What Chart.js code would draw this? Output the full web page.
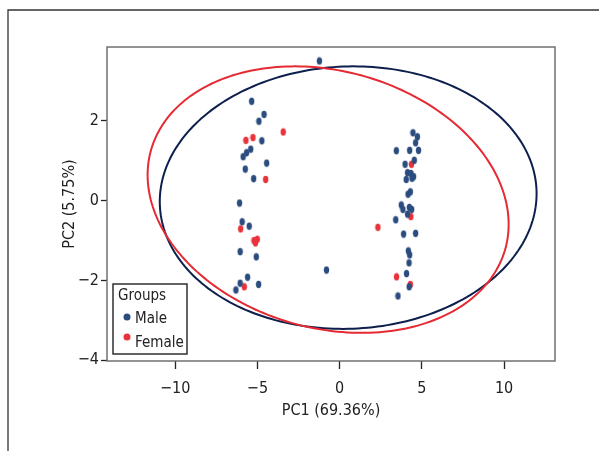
<!DOCTYPE html>
<html>
<head>
<meta charset="utf-8">
<script src="https://cdn.jsdelivr.net/npm/chart.js@4"></script>
<style>
  body { margin: 0; background: #fff; }
  canvas { display: block; }
</style>
</head>
<body>
<canvas id="pca" width="599" height="451"></canvas>
<script>
// PCA scores
var maleX = [-1.23, -5.35, -4.60, -4.91, -4.73, -5.41, -5.66, -5.87, -4.44, -5.74, -5.23, -6.09, -5.93, -5.50,
  -6.05, -5.07, -5.60, -6.05, -4.93, -6.31, -0.80,
  4.46, 4.73, 4.62, 4.80, 3.45, 4.26, 4.54, 3.98, 4.13, 4.34, 4.50, 4.05, 4.40, 4.30, 4.16, 3.75, 3.85,
  4.24, 4.13, 4.38, 3.41, 3.89, 4.62, 4.18, 4.26, 4.22, 4.07, 4.23, 3.55];
var maleY = [3.50, 2.49, 2.16, 1.99, 1.50, 1.29, 1.20, 1.10, 0.94, 0.79, 0.55, -0.06, -0.53, -0.64,
  -1.28, -1.41, -1.92, -2.07, -2.10, -2.24, -1.74,
  1.70, 1.60, 1.45, 1.26, 1.25, 1.26, 1.01, 0.91, 0.70, 0.68, 0.60, 0.53, 0.56, 0.22, 0.16, -0.11, -0.22,
  -0.17, -0.34, -0.22, -0.48, -0.84, -0.82, -1.26, -1.36, -1.56, -1.83, -2.16, -2.39];
var femaleX = [-3.43, -5.70, -5.27, -4.50, -6.02, -5.21, -5.01, -5.12, -5.80, 2.33, 4.37, 4.33, 3.46, 4.30];
var femaleY = [1.72, 1.51, 1.58, 0.53, -0.71, -1.00, -0.97, -1.06, -2.16, -0.67, 0.91, -0.40, -1.91, -2.10];

// confidence ellipses: centre x, centre y, half width, half height, correlation
var maleEllipse = [0.52, 0.075, 11.46, 3.29, 0.03];
var femaleEllipse = [-0.70, 0.025, 10.98, 3.34, -0.185];

var xTicks = [-10, -5, 0, 5, 10];
var yTicks = [-4, -2, 0, 2];
var groups = ['Male', 'Female'];

var BLUE = '#2b4c7e', RED = '#e8333c';
var NAVY = '#0d1f4d', RED_LINE = '#e52a33';
var FONT = '"Liberation Sans Narrow", "DejaVu Sans Condensed", "Liberation Sans", sans-serif';
var SIZE = 16;

function dot(color) {
  var c = document.createElement('canvas');
  c.width = 7; c.height = 9;
  var g = c.getContext('2d');
  g.fillStyle = color;
  g.beginPath();
  g.ellipse(3.5, 4.5, 2.7, 3.7, 0, 0, Math.PI * 2);
  g.fill();
  return c;
}

function points(xs, ys) {
  return xs.map(function(x, i) { return {x: x, y: ys[i]}; });
}

function minus(v) {
  return v < 0 ? '\u2212' + Math.abs(v) : String(v);
}

var decor = {
  id: 'decor',
  beforeDraw: function(chart) {
    var c = chart.ctx;
    c.save();
    c.strokeStyle = '#333';
    c.lineWidth = 1.3;
    c.beginPath();
    c.moveTo(8, 451);
    c.lineTo(8, 10);
    c.lineTo(599, 10);
    c.stroke();
    c.restore();
  },
  afterDatasetsDraw: function(chart) {
    var c = chart.ctx, sx = chart.scales.x, sy = chart.scales.y;
    [[maleEllipse, NAVY], [femaleEllipse, RED_LINE]].forEach(function(e) {
      var p = e[0];
      c.save();
      c.strokeStyle = e[1];
      c.lineWidth = 2;
      c.beginPath();
      for (var i = 0; i <= 240; i++) {
        var t = i / 240 * Math.PI * 2;
        var x = p[0] + p[2] * Math.cos(t);
        var y = p[1] + p[3] * (p[4] * Math.cos(t) + Math.sqrt(1 - p[4] * p[4]) * Math.sin(t));
        var px = sx.getPixelForValue(x), py = sy.getPixelForValue(y);
        if (i === 0) c.moveTo(px, py); else c.lineTo(px, py);
      }
      c.stroke();
      c.restore();
    });
  },
  afterDraw: function(chart) {
    var c = chart.ctx, a = chart.chartArea;
    c.save();
    // plot frame
    c.strokeStyle = '#707070';
    c.lineWidth = 1.5;
    c.strokeRect(a.left, a.top, a.right - a.left, a.bottom - a.top);

    // legend box
    c.fillStyle = '#fff';
    c.fillRect(113, 284, 74, 70);
    c.strokeStyle = '#222';
    c.lineWidth = 1.4;
    c.strokeRect(113, 284, 74, 70);
    c.fillStyle = '#222';
    c.font = '15px ' + FONT;
    c.textBaseline = 'alphabetic';
    c.fillText('Groups', 118, 299.5);
    var colors = [BLUE, RED];
    groups.forEach(function(g, i) {
      c.fillStyle = colors[i];
      c.beginPath();
      c.arc(127, 317 + i * 20, 3.5, 0, Math.PI * 2);
      c.fill();
      c.fillStyle = '#222';
      c.fillText(g, 135, 323 + i * 23.5);
    });
    c.restore();
  }
};

new Chart(document.getElementById('pca'), {
  type: 'scatter',
  data: {
    datasets: [
      {label: groups[0], data: points(maleX, maleY), pointStyle: dot(BLUE), backgroundColor: BLUE},
      {label: groups[1], data: points(femaleX, femaleY), pointStyle: dot(RED), backgroundColor: RED}
    ]
  },
  options: {
    responsive: false,
    animation: false,
    layout: {padding: {top: 47, right: 44, left: 0, bottom: 0}},
    plugins: {legend: {display: false}, tooltip: {enabled: false}},
    scales: {
      x: {
        type: 'linear', min: -14.15, max: 13.1,
        afterBuildTicks: function(s) { s.ticks = xTicks.map(function(v) { return {value: v}; }); },
        afterFit: function(s) { s.height = 90; },
        grid: {drawOnChartArea: false, tickLength: 8, tickColor: '#222', tickWidth: 1.3},
        border: {display: false},
        ticks: {color: '#222', padding: 10, maxRotation: 0, font: {family: FONT, size: SIZE}, callback: minus},
        title: {display: true, text: 'PC1 (69.36%)', color: '#222', padding: {bottom: 31}, font: {family: FONT, size: SIZE}}
      },
      y: {
        type: 'linear', min: -4.02, max: 3.85,
        afterBuildTicks: function(s) { s.ticks = yTicks.map(function(v) { return {value: v}; }); },
        afterFit: function(s) { s.width = 107; },
        grid: {drawOnChartArea: false, tickLength: 6, tickColor: '#222', tickWidth: 1.3},
        border: {display: false},
        ticks: {color: '#222', padding: 2, font: {family: FONT, size: SIZE}, callback: minus},
        title: {display: true, text: 'PC2 (5.75%)', color: '#222', padding: {top: 60}, font: {family: FONT, size: SIZE}}
      }
    }
  },
  plugins: [decor]
});
</script>
</body>
</html>
